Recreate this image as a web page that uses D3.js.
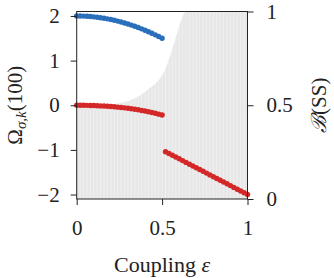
<!DOCTYPE html>
<html>
<head>
<meta charset="utf-8">
<script src="https://cdn.jsdelivr.net/npm/d3@7"></script>
<style>
  body { margin: 0; background: #fff; }
  svg { display: block; }
  svg text { font-family: "Liberation Serif", "Times New Roman", Times, "DejaVu Serif", serif !important; fill: #222; }
</style>
</head>
<body>
<svg id="chart" width="334" height="278"></svg>
<script>
// coupling values for the left branch (blue + upper red)
const epsA = [0, 0.02, 0.04, 0.06, 0.08, 0.10, 0.12, 0.14, 0.16, 0.18, 0.20, 0.22, 0.24,
  0.26, 0.28, 0.30, 0.32, 0.34, 0.36, 0.38, 0.40, 0.42, 0.44, 0.46, 0.48, 0.50];
const blueVals = [2.000, 1.999, 1.997, 1.993, 1.987, 1.980, 1.971, 1.961, 1.949, 1.935, 1.920,
  1.903, 1.885, 1.865, 1.843, 1.820, 1.795, 1.769, 1.741, 1.711, 1.680, 1.647, 1.613, 1.577,
  1.539, 1.500];
const redVals1 = [0.000, -0.000, -0.001, -0.002, -0.004, -0.007, -0.010, -0.014, -0.018,
  -0.023, -0.029, -0.035, -0.042, -0.050, -0.058, -0.068, -0.078, -0.090, -0.102, -0.116,
  -0.130, -0.146, -0.162, -0.180, -0.199, -0.220];

// right branch (lower red)
const epsB = [0.52, 0.54, 0.56, 0.58, 0.60, 0.62, 0.64, 0.66, 0.68, 0.70, 0.72, 0.74, 0.76,
  0.78, 0.80, 0.82, 0.84, 0.86, 0.88, 0.90, 0.92, 0.94, 0.96, 0.98, 1.00];
const redVals2 = [-1.04, -1.08, -1.12, -1.16, -1.20, -1.24, -1.28, -1.32, -1.36, -1.40, -1.44,
  -1.48, -1.52, -1.56, -1.60, -1.64, -1.68, -1.72, -1.76, -1.80, -1.84, -1.88, -1.92, -1.96,
  -2.00];

// basin stability of the synchronous state
const epsBS = [0, 0.02, 0.04, 0.06, 0.08, 0.10, 0.12, 0.14, 0.16, 0.18, 0.20, 0.22, 0.24,
  0.26, 0.28, 0.30, 0.32, 0.34, 0.36, 0.38, 0.40, 0.42, 0.44, 0.46, 0.48, 0.50, 0.52, 0.54,
  0.56, 0.58, 0.60, 0.62, 0.64, 0.66, 0.68, 0.70, 0.72, 0.74, 0.76, 0.78, 0.80, 0.82, 0.84,
  0.86, 0.88, 0.90, 0.92, 0.94, 0.96, 0.98, 1.00];
const bssVals = [0.500, 0.500, 0.500, 0.500, 0.500, 0.500, 0.501, 0.501, 0.502, 0.503, 0.504,
  0.506, 0.509, 0.513, 0.518, 0.523, 0.530, 0.538, 0.547, 0.558, 0.571, 0.585, 0.600, 0.615,
  0.634, 0.660, 0.695, 0.745, 0.800, 0.860, 0.920, 0.975, 1, 1, 1, 1, 1, 1, 1, 1, 1, 1, 1,
  1, 1, 1, 1, 1, 1, 1, 1];

const xTicks = [0, 0.5, 1];
const yTicks = [-2, -1, 0, 1, 2];
const rTicks = [0, 0.5, 1];

const blue = "#2a6fbb";
const red = "#d42828";
const serif = "'Liberation Serif', 'Times New Roman', Times, 'DejaVu Serif', serif";

const svg = d3.select("#chart");
const mLeft = 76.7, mRight = 247.5, mTop = 11.5, mBottom = 199;

const x = d3.scaleLinear().domain([0, 1]).range([mLeft, mRight]);
const y = d3.scaleLinear().domain([-2.1, 2.1]).range([mBottom, mTop]);
const yR = d3.scaleLinear().domain([0, 1]).range([mBottom, mTop]);

svg.append("clipPath").attr("id", "plot-clip")
  .append("rect")
  .attr("x", mLeft).attr("y", mTop)
  .attr("width", mRight - mLeft).attr("height", mBottom - mTop);

const bs = epsBS.map((e, i) => ({ e, v: bssVals[i] }));

const gArea = svg.append("g").attr("clip-path", "url(#plot-clip)");
gArea.append("path")
  .attr("fill", "#e7e7e7")
  .attr("d", d3.area()
    .x(d => x(d.e))
    .y0(yR(0))
    .y1(d => yR(d.v))
    .curve(d3.curveMonotoneX)(bs));

gArea.selectAll(".stripe")
  .data(bs.slice(1, -1))
  .join("line")
  .attr("x1", d => x(d.e)).attr("x2", d => x(d.e))
  .attr("y1", yR(0)).attr("y2", d => yR(d.v))
  .attr("stroke", "#f3f3f3")
  .attr("stroke-width", 0.8);

// markers
const drawDots = (eps, vals, color) => {
  svg.append("g")
    .selectAll("circle")
    .data(eps.map((e, i) => ({ e, v: vals[i] })))
    .join("circle")
    .attr("cx", d => x(d.e))
    .attr("cy", d => y(d.v))
    .attr("r", 2.7)
    .attr("fill", color);
};
drawDots(epsA, blueVals, blue);
drawDots(epsA, redVals1, red);
drawDots(epsB, redVals2, red);

// frame
svg.append("rect")
  .attr("x", mLeft).attr("y", mTop)
  .attr("width", mRight - mLeft).attr("height", mBottom - mTop)
  .attr("fill", "none").attr("stroke", "#222").attr("stroke-width", 1);

const styleAxis = g => {
  g.attr("font-family", serif).attr("font-size", 21);
  g.select(".domain").remove();
  g.selectAll(".tick line").attr("stroke", "#222");
  g.selectAll(".tick text").attr("fill", "#222");
};

svg.append("g")
  .attr("transform", `translate(0,${mBottom})`)
  .call(d3.axisBottom(x).tickValues(xTicks).tickSize(6).tickPadding(15)
    .tickFormat(d3.format("")))
  .call(styleAxis);

svg.append("g")
  .attr("transform", `translate(${mLeft},0)`)
  .call(d3.axisLeft(y).tickValues(yTicks).tickSize(6).tickPadding(11)
    .tickFormat(d => d < 0 ? "\u2212" + Math.abs(d) : d))
  .call(styleAxis);

svg.append("g")
  .attr("transform", `translate(${mRight},0)`)
  .call(d3.axisRight(yR).tickValues(rTicks).tickSize(6).tickPadding(13)
    .tickFormat(d3.format("")))
  .call(styleAxis);

// axis titles
const xl = svg.append("text")
  .attr("x", x(0.5)).attr("y", 272)
  .attr("text-anchor", "middle")
  .attr("font-family", serif)
  .attr("font-size", 22);
xl.append("tspan").text("Coupling ");
xl.append("tspan").attr("font-style", "italic").text("\u03b5");

const yl = svg.append("text")
  .attr("transform", `translate(22,${(mTop + mBottom) / 2}) rotate(-90)`)
  .attr("text-anchor", "middle")
  .attr("font-family", serif)
  .attr("font-size", 21);
yl.append("tspan").text("\u03a9");
yl.append("tspan").attr("dy", 4).attr("font-size", 15).attr("font-style", "italic").text("\u03c3,k");
yl.append("tspan").attr("dy", -4).text("(100)");

const rl = svg.append("text")
  .attr("transform", `translate(326,${(mTop + mBottom) / 2}) rotate(-90)`)
  .attr("text-anchor", "middle")
  .attr("font-family", serif)
  .attr("font-size", 21);
rl.append("tspan").attr("font-style", "italic").text("\u212c");
rl.append("tspan").text("(SS)");
</script>
</body>
</html>
